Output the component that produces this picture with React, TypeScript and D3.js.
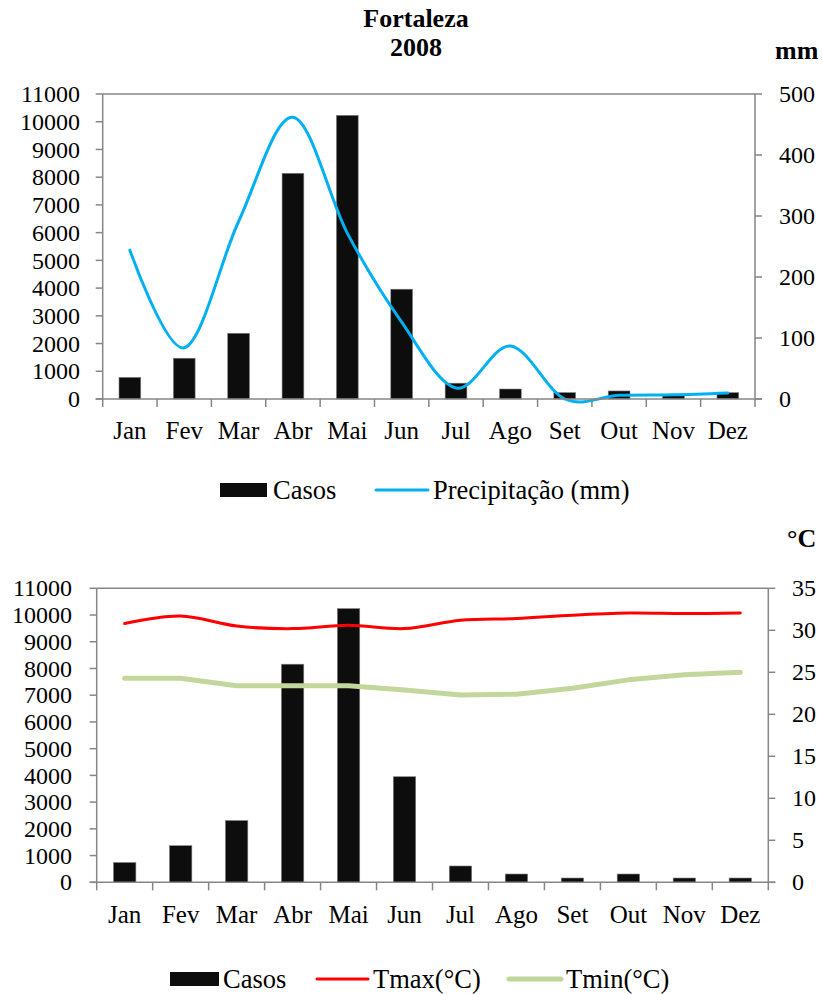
import React from 'react';
import * as d3 from 'd3';

const months = ['Jan', 'Fev', 'Mar', 'Abr', 'Mai', 'Jun', 'Jul', 'Ago', 'Set', 'Out', 'Nov', 'Dez'];
const casosTop = [780, 1470, 2370, 8140, 10230, 3960, 570, 360, 230, 290, 150, 230];
const precipitacao = [244, 84, 291, 462, 272, 126, 18, 87, 0, 6, 7, 10];
const casosBottom = [740, 1370, 2310, 8160, 10240, 3950, 610, 310, 160, 310, 160, 160];
const tmax = [30.8, 31.7, 30.5, 30.2, 30.6, 30.2, 31.2, 31.4, 31.8, 32.05, 32.0, 32.05];
const tmin = [24.3, 24.3, 23.4, 23.4, 23.4, 22.9, 22.3, 22.4, 23.1, 24.1, 24.7, 25.0];
const casosTicks = d3.range(0, 11001, 1000);
const mmTicks = [0, 100, 200, 300, 400, 500];
const cTicks = [0, 5, 10, 15, 20, 25, 30, 35];

const FONT = '"Liberation Serif", "Times New Roman", serif';
const AXIS = '#868686';
const BAR = '#0d0d0d';

type Panel = {
  left: number; right: number; top: number; bottom: number;
  casos: number[];
  rightMax: number; rightTicks: number[];
  leftLabelX: number; rightLabelX: number; xLabelY: number;
};

function Frame({ p, children }: { p: Panel; children?: React.ReactNode }) {
  const x = d3.scaleBand<string>().domain(months).range([p.left, p.right]).padding(0);
  const y = d3.scaleLinear().domain([0, 11000]).range([p.bottom, p.top]);
  const yr = d3.scaleLinear().domain([0, p.rightMax]).range([p.bottom, p.top]);
  const bw = x.bandwidth();
  const bounds = months.map((m) => x(m) as number).concat([p.right]);
  return (
    <g>
      {p.casos.map((v, i) => (
        <rect key={'b' + i} x={(x(months[i]) as number) + bw * 0.3} width={bw * 0.4}
          y={y(v)} height={p.bottom - y(v)} fill={BAR} stroke="#7f7f7f" strokeWidth={0.6} />
      ))}
      {children}
      <line x1={p.left} x2={p.right} y1={p.top} y2={p.top} stroke={AXIS} strokeWidth={1.5} />
      <line x1={p.left} x2={p.left} y1={p.top} y2={p.bottom} stroke={AXIS} strokeWidth={1.5} />
      <line x1={p.right} x2={p.right} y1={p.top} y2={p.bottom} stroke={AXIS} strokeWidth={1.5} />
      <line x1={p.left - 7} x2={p.right + 7} y1={p.bottom} y2={p.bottom} stroke={AXIS} strokeWidth={1.5} />
      {casosTicks.map((t) => (
        <g key={'l' + t}>
          <line x1={p.left - 7} x2={p.left} y1={y(t)} y2={y(t)} stroke={AXIS} strokeWidth={1.5} />
          <text x={p.leftLabelX} y={y(t)} dy="0.34em" textAnchor="end" fontSize={24}>{t}</text>
        </g>
      ))}
      {p.rightTicks.map((t) => (
        <g key={'r' + t}>
          <line x1={p.right} x2={p.right + 7} y1={yr(t)} y2={yr(t)} stroke={AXIS} strokeWidth={1.5} />
          <text x={p.rightLabelX} y={yr(t)} dy="0.34em" textAnchor="start" fontSize={24}>{t}</text>
        </g>
      ))}
      {bounds.map((b, i) => (
        <line key={'t' + i} x1={b} x2={b} y1={p.bottom} y2={p.bottom + 8} stroke={AXIS} strokeWidth={1.5} />
      ))}
      {months.map((m) => (
        <text key={'x' + m} x={(x(m) as number) + bw / 2} y={p.xLabelY} textAnchor="middle" fontSize={25}>{m}</text>
      ))}
    </g>
  );
}

export default function App() {
  const top: Panel = {
    left: 102.7, right: 755, top: 94, bottom: 399, casos: casosTop,
    rightMax: 500, rightTicks: mmTicks, leftLabelX: 80, rightLabelX: 779, xLabelY: 439,
  };
  const bot: Panel = {
    left: 96.7, right: 768.3, top: 588.3, bottom: 882.3, casos: casosBottom,
    rightMax: 35, rightTicks: cTicks, leftLabelX: 72, rightLabelX: 792, xLabelY: 923,
  };
  const xt = d3.scaleBand<string>().domain(months).range([top.left, top.right]);
  const yp = d3.scaleLinear().domain([0, 500]).range([top.bottom, top.top]);
  const xb = d3.scaleBand<string>().domain(months).range([bot.left, bot.right]);
  const yc = d3.scaleLinear().domain([0, 35]).range([bot.bottom, bot.top]);

  const precipLine = d3.line<number>()
    .x((_, i) => (xt(months[i]) as number) + xt.bandwidth() / 2)
    .y((d) => yp(d))
    .curve(d3.curveCardinal.tension(0))(precipitacao) || '';
  const tmaxLine = d3.line<number>()
    .x((_, i) => (xb(months[i]) as number) + xb.bandwidth() / 2)
    .y((d) => yc(d))
    .curve(d3.curveCardinal.tension(0))(tmax) || '';
  const tminLine = d3.line<number>()
    .x((_, i) => (xb(months[i]) as number) + xb.bandwidth() / 2)
    .y((d) => yc(d))
    .curve(d3.curveLinear)(tmin) || '';

  return (
    <svg width={822} height={994} style={{ position: 'absolute', left: 0, top: 0, background: '#fff' }}
      fontFamily={FONT} fill="#000">
      <rect x={0} y={0} width={822} height={994} fill="#fff" />
      <text x={416} y={27} textAnchor="middle" fontSize={26} fontWeight="bold">Fortaleza</text>
      <text x={416} y={56} textAnchor="middle" fontSize={26} fontWeight="bold">2008</text>
      <text x={775} y={59} textAnchor="start" fontSize={26} fontWeight="bold">mm</text>
      <text x={787} y={547} textAnchor="start" fontSize={26} fontWeight="bold">°C</text>

      <Frame p={top}>
        <path d={precipLine} fill="none" stroke="#00b0f0" strokeWidth={3} strokeLinecap="round" />
      </Frame>
      <Frame p={bot}>
        <path d={tmaxLine} fill="none" stroke="#ff0000" strokeWidth={3} strokeLinecap="round" />
        <path d={tminLine} fill="none" stroke="#c3d69b" strokeWidth={5} strokeLinecap="round" strokeLinejoin="round" />
      </Frame>

      {/* legend top */}
      <rect x={220} y={483} width={47} height={14} fill={BAR} />
      <text x={273} y={499} fontSize={26.5}>Casos</text>
      <line x1={376} x2={428} y1={490} y2={490} stroke="#00b0f0" strokeWidth={3} strokeLinecap="round" />
      <text x={433} y={499} fontSize={26.5}>Precipitação (mm)</text>

      {/* legend bottom */}
      <rect x={170} y={972} width={49} height={14} fill={BAR} />
      <text x={223} y={988} fontSize={26.5}>Casos</text>
      <line x1={317} x2={368} y1={979} y2={979} stroke="#ff0000" strokeWidth={3} strokeLinecap="round" />
      <text x={373} y={988} fontSize={26.5}>Tmax(°C)</text>
      <line x1={509} x2={561} y1={979} y2={979} stroke="#c3d69b" strokeWidth={5} strokeLinecap="round" />
      <text x={566} y={988} fontSize={26.5}>Tmin(°C)</text>
    </svg>
  );
}
